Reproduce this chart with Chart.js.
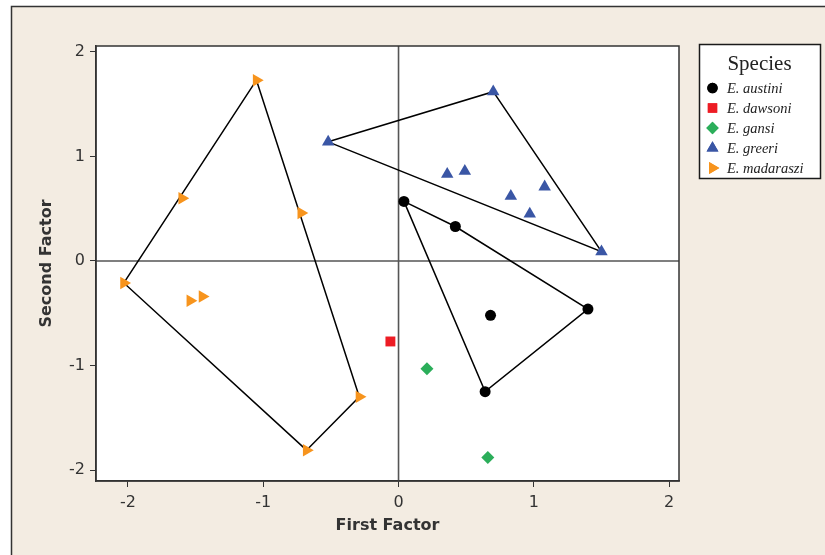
<!DOCTYPE html>
<html>
<head>
<meta charset="utf-8">
<script src="https://cdn.jsdelivr.net/npm/chart.js@4/dist/chart.umd.min.js"></script>
<style>
  html, body { margin: 0; padding: 0; background: #ffffff; }
  #wrap { width: 825px; height: 555px; }
</style>
</head>
<body>
<div id="wrap"><canvas id="c" width="825" height="555"></canvas></div>
<script>
// ---- data ----
const speciesNames = ['E. austini', 'E. dawsoni', 'E. gansi', 'E. greeri', 'E. madaraszi'];

const austiniX = [0.04, 0.42, 0.68, 1.40, 0.64];
const austiniY = [0.57, 0.33, -0.52, -0.46, -1.25];

const dawsoniX = [-0.06];
const dawsoniY = [-0.77];

const gansiX = [0.21, 0.66];
const gansiY = [-1.03, -1.88];

const greeriX = [-0.52, 0.70, 1.50, 0.36, 0.49, 0.83, 1.08, 0.97];
const greeriY = [1.14, 1.62, 0.09, 0.83, 0.86, 0.62, 0.71, 0.45];

const madarasziX = [-1.05, -1.60, -0.72, -2.03, -1.54, -1.45, -0.29, -0.68];
const madarasziY = [1.73, 0.60, 0.46, -0.21, -0.38, -0.34, -1.30, -1.81];

// convex hull vertex order (indices into each species' points)
const austiniHull = [0, 1, 3, 4, 0];
const greeriHull = [0, 1, 2, 0];
const madarasziHull = [0, 6, 7, 3, 0];

const xTicks = [-2, -1, 0, 1, 2];
const yTicks = [-2, -1, 0, 1, 2];

// ---- helpers ----
const pts = (xs, ys) => xs.map((x, i) => ({ x: x, y: ys[i] }));
const hull = (xs, ys, idx) => idx.map(i => ({ x: xs[i], y: ys[i] }));

const colors = ['#000000', '#ED1C24', '#2BAE5A', '#3A56A5', '#F7941D'];
const styles = ['circle', 'rect', 'rectRot', 'triangle', 'triangle'];
const rotations = [0, 0, 0, 0, 90];
const radii = [5.5, 7, 6.5, 7.2, 7.2];

const seriesX = [austiniX, dawsoniX, gansiX, greeriX, madarasziX];
const seriesY = [austiniY, dawsoniY, gansiY, greeriY, madarasziY];

const datasets = [];
// hull outlines
[[austiniX, austiniY, austiniHull], [greeriX, greeriY, greeriHull], [madarasziX, madarasziY, madarasziHull]]
  .forEach(h => {
    datasets.push({
      type: 'line',
      data: hull(h[0], h[1], h[2]),
      borderColor: '#000000',
      borderWidth: 1.5,
      pointRadius: 0,
      fill: false,
      tension: 0,
      order: 2
    });
  });
// points
speciesNames.forEach((name, i) => {
  datasets.push({
    type: 'scatter',
    label: name,
    data: pts(seriesX[i], seriesY[i]),
    pointStyle: styles[i],
    rotation: rotations[i],
    pointRadius: radii[i],
    backgroundColor: colors[i],
    borderColor: colors[i],
    borderWidth: 0,
    order: 1
  });
});

const TICK_FONT = { family: 'DejaVu Sans', size: 16 };
const TITLE_FONT = { family: 'DejaVu Sans', size: 16, weight: 'bold' };

const framePlugin = {
  id: 'frame',
  beforeDraw(chart) {
    const ctx = chart.ctx;
    const a = chart.chartArea;
    ctx.save();
    ctx.fillStyle = '#ffffff';
    ctx.fillRect(0, 0, chart.width, chart.height);
    ctx.fillStyle = '#F3ECE2';
    ctx.fillRect(11, 6, chart.width - 11, chart.height - 6);
    ctx.strokeStyle = '#333333';
    ctx.lineWidth = 1.5;
    ctx.beginPath();
    ctx.moveTo(11.5, chart.height);
    ctx.lineTo(11.5, 6.5);
    ctx.lineTo(chart.width, 6.5);
    ctx.stroke();
    ctx.fillStyle = '#ffffff';
    ctx.fillRect(a.left, a.top, a.right - a.left, a.bottom - a.top);
    ctx.restore();
  },
  beforeDatasetsDraw(chart) {
    const ctx = chart.ctx;
    const a = chart.chartArea;
    const xs = chart.scales.x, ys = chart.scales.y;
    const x0 = xs.getPixelForValue(0), y0 = ys.getPixelForValue(0);
    ctx.save();
    ctx.strokeStyle = '#555555';
    ctx.lineWidth = 1.6;
    ctx.beginPath();
    ctx.moveTo(x0, a.top); ctx.lineTo(x0, a.bottom);
    ctx.moveTo(a.left, y0); ctx.lineTo(a.right, y0);
    ctx.stroke();
    ctx.restore();
  },
  afterDraw(chart) {
    const ctx = chart.ctx;
    const a = chart.chartArea;
    ctx.save();
    ctx.strokeStyle = '#333333';
    ctx.lineWidth = 1.5;
    ctx.strokeRect(a.left, a.top, a.right - a.left, a.bottom - a.top);

    // legend box
    const lx = 699.5, ly = 44.5, lw = 121, lh = 134;
    ctx.fillStyle = '#ffffff';
    ctx.fillRect(lx, ly, lw, lh);
    ctx.strokeStyle = '#1a1a1a';
    ctx.lineWidth = 1.5;
    ctx.strokeRect(lx, ly, lw, lh);
    ctx.fillStyle = '#222222';
    ctx.font = '21px "Liberation Serif"';
    ctx.textAlign = 'center';
    ctx.textBaseline = 'middle';
    ctx.fillText('Species', 759.5, 64);
    ctx.font = 'italic 14.5px "Liberation Serif"';
    ctx.textAlign = 'left';
    const rowY = [88, 108, 128, 148, 168];
    speciesNames.forEach((name, i) => {
      ctx.fillStyle = colors[i];
      Chart.helpers.drawPoint(ctx, {
        pointStyle: styles[i], rotation: rotations[i], radius: radii[i] * 0.95, borderWidth: 0
      }, 712.5, rowY[i]);
      ctx.fill();
      ctx.fillStyle = '#222222';
      ctx.fillText(name, 727, rowY[i] + 1);
    });
    ctx.restore();
  }
};

new Chart(document.getElementById('c'), {
  data: { datasets: datasets },
  plugins: [framePlugin],
  options: {
    responsive: false,
    animation: false,
    events: [],
    layout: { padding: { left: 0, top: 46, right: 146, bottom: 0 } },
    plugins: { legend: { display: false }, tooltip: { enabled: false } },
    scales: {
      x: {
        type: 'linear',
        min: -2.236, max: 2.073,
        afterBuildTicks: s => { s.ticks = xTicks.map(v => ({ value: v })); },
        afterFit: s => { s.height = 74; },
        grid: { drawOnChartArea: false, drawTicks: true, tickLength: 6, tickColor: '#333333', lineWidth: 1 },
        border: { display: true, color: '#333333', width: 1.5 },
        ticks: { font: TICK_FONT, color: '#333333', padding: 6, maxRotation: 0 },
        title: { display: true, text: 'First Factor', font: TITLE_FONT, color: '#333333', padding: { top: 0, bottom: 20 } }
      },
      y: {
        type: 'linear',
        min: -2.105, max: 2.057,
        afterBuildTicks: s => { s.ticks = yTicks.map(v => ({ value: v })); },
        afterFit: s => { s.width = 96; },
        grid: { drawOnChartArea: false, drawTicks: true, tickLength: 6, tickColor: '#333333', lineWidth: 1 },
        border: { display: true, color: '#333333', width: 1.5 },
        ticks: { font: TICK_FONT, color: '#333333', padding: 5 },
        title: { display: true, text: 'Second Factor', font: TITLE_FONT, color: '#333333', padding: { top: 37, bottom: 0 } }
      }
    }
  }
});
</script>
</body>
</html>
